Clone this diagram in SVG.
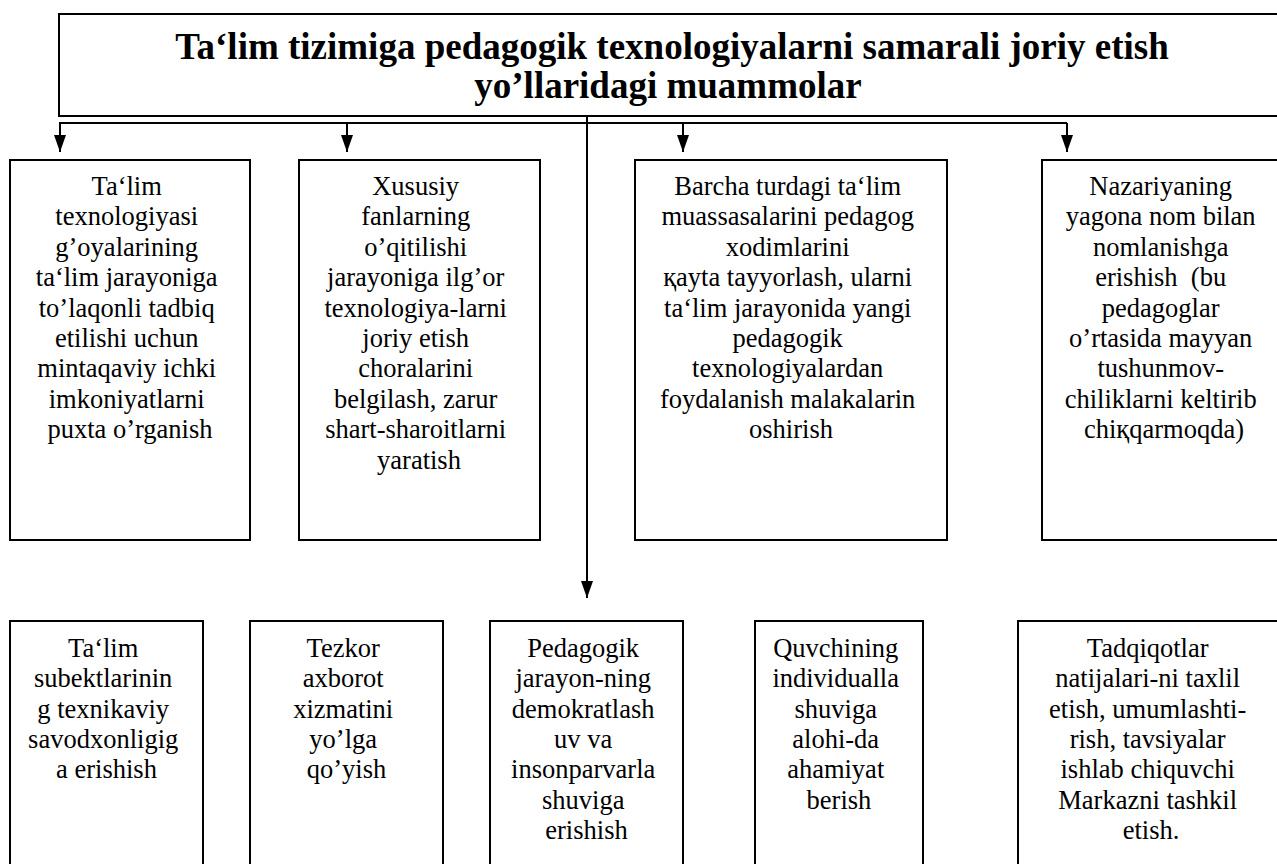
<svg xmlns="http://www.w3.org/2000/svg" width="1277" height="864" viewBox="0 0 1277 864">
<style>
.box{fill:#fff;stroke:#000;stroke-width:2}
.t{font-family:"Liberation Serif","Times New Roman",serif;font-size:26.5px;fill:#000;text-anchor:middle}
.title{font-family:"Liberation Serif","Times New Roman",serif;font-size:37px;font-weight:bold;fill:#000;text-anchor:middle}
.c{fill:none;stroke:#000;stroke-width:2}
</style>
<defs>
<marker id="ah" viewBox="0 0 17 12" refX="17" refY="6" markerWidth="17" markerHeight="12" markerUnits="userSpaceOnUse" orient="auto">
<path d="M0,0 L17,6 L0,12 z" fill="#000"/>
</marker>
</defs>
<rect width="1277" height="864" fill="#fff"/>
<g id="title">
<rect class="box" x="59" y="14" width="1240" height="102"/>
<text class="title" x="672" y="59">Ta‘lim tizimiga pedagogik texnologiyalarni samarali joriy etish</text>
<text class="title" x="668" y="98">yo’llaridagi muammolar</text>
</g>
<g id="connectors">
<path class="c" d="M59,123 H1067"/>
<path class="c" d="M60,123 V152" marker-end="url(#ah)"/>
<path class="c" d="M347,123 V152" marker-end="url(#ah)"/>
<path class="c" d="M683,123 V152" marker-end="url(#ah)"/>
<path class="c" d="M1067,123 V152" marker-end="url(#ah)"/>
<path class="c" d="M587,116 V598" marker-end="url(#ah)"/>
</g>
<g id="top1">
<rect class="box" x="10" y="160" width="240" height="380"/>
<text class="t" x="130">
<tspan x="130" y="195">Ta‘lim</tspan>
<tspan x="130" y="225.4">texnologiyasi</tspan>
<tspan x="130" y="255.8">g’oyalarining</tspan>
<tspan x="130" y="286.2">ta‘lim jarayoniga</tspan>
<tspan x="130" y="316.6">to’laqonli tadbiq</tspan>
<tspan x="130" y="347">etilishi uchun</tspan>
<tspan x="130" y="377.4">mintaqaviy ichki</tspan>
<tspan x="130" y="407.8">imkoniyatlarni</tspan>
<tspan x="130" y="438.2">puxta o’rganish</tspan>
</text>
</g>
<g id="top2">
<rect class="box" x="299" y="160" width="241" height="380"/>
<text class="t" x="419">
<tspan x="419" y="195">Xususiy</tspan>
<tspan x="419" y="225.4">fanlarning</tspan>
<tspan x="419" y="255.8">o’qitilishi</tspan>
<tspan x="419" y="286.2">jarayoniga ilg’or</tspan>
<tspan x="419" y="316.6">texnologiya-larni</tspan>
<tspan x="419" y="347">joriy etish</tspan>
<tspan x="419" y="377.4">choralarini</tspan>
<tspan x="419" y="407.8">belgilash, zarur</tspan>
<tspan x="419" y="438.2">shart-sharoitlarni</tspan>
<tspan x="419" y="468.6">yaratish</tspan>
</text>
</g>
<g id="top3">
<rect class="box" x="635" y="160" width="312" height="380"/>
<text class="t" x="791">
<tspan x="791" y="195">Barcha turdagi ta‘lim</tspan>
<tspan x="791" y="225.4">muassasalarini pedagog</tspan>
<tspan x="791" y="255.8">xodimlarini</tspan>
<tspan x="791" y="286.2">қayta tayyorlash, ularni</tspan>
<tspan x="791" y="316.6">ta‘lim jarayonida yangi</tspan>
<tspan x="791" y="347">pedagogik</tspan>
<tspan x="791" y="377.4">texnologiyalardan</tspan>
<tspan x="791" y="407.8">foydalanish malakalarin</tspan>
<tspan x="791" y="438.2">oshirish</tspan>
</text>
</g>
<g id="top4">
<rect class="box" x="1042" y="160" width="245" height="380"/>
<text class="t" x="1164">
<tspan x="1164" y="195">Nazariyaning</tspan>
<tspan x="1164" y="225.4">yagona nom bilan</tspan>
<tspan x="1164" y="255.8">nomlanishga</tspan>
<tspan x="1164" y="286.2">erishish&#160; (bu</tspan>
<tspan x="1164" y="316.6">pedagoglar</tspan>
<tspan x="1164" y="347">o’rtasida mayyan</tspan>
<tspan x="1164" y="377.4">tushunmov-</tspan>
<tspan x="1164" y="407.8">chiliklarni keltirib</tspan>
<tspan x="1164" y="438.2">chiқqarmoqda)</tspan>
</text>
</g>
<g id="bot1">
<rect class="box" x="10" y="621" width="193" height="260"/>
<text class="t" x="106.5">
<tspan x="106.5" y="657">Ta‘lim</tspan>
<tspan x="106.5" y="687.3">subektlarinin</tspan>
<tspan x="106.5" y="717.6">g texnikaviy</tspan>
<tspan x="106.5" y="747.9">savodxonligig</tspan>
<tspan x="106.5" y="778.2">a erishish</tspan>
</text>
</g>
<g id="bot2">
<rect class="box" x="250" y="621" width="193" height="260"/>
<text class="t" x="346.5">
<tspan x="346.5" y="657">Tezkor</tspan>
<tspan x="346.5" y="687.3">axborot</tspan>
<tspan x="346.5" y="717.6">xizmatini</tspan>
<tspan x="346.5" y="747.9">yo’lga</tspan>
<tspan x="346.5" y="778.2">qo’yish</tspan>
</text>
</g>
<g id="bot3">
<rect class="box" x="490" y="621" width="193" height="260"/>
<text class="t" x="586.5">
<tspan x="586.5" y="657">Pedagogik</tspan>
<tspan x="586.5" y="687.3">jarayon-ning</tspan>
<tspan x="586.5" y="717.6">demokratlash</tspan>
<tspan x="586.5" y="747.9">uv va</tspan>
<tspan x="586.5" y="778.2">insonparvarla</tspan>
<tspan x="586.5" y="808.5">shuviga</tspan>
<tspan x="586.5" y="838.8">erishish</tspan>
</text>
</g>
<g id="bot4">
<rect class="box" x="755" y="621" width="168" height="260"/>
<text class="t" x="839">
<tspan x="839" y="657">Quvchining</tspan>
<tspan x="839" y="687.3">individualla</tspan>
<tspan x="839" y="717.6">shuviga</tspan>
<tspan x="839" y="747.9">alohi-da</tspan>
<tspan x="839" y="778.2">ahamiyat</tspan>
<tspan x="839" y="808.5">berish</tspan>
</text>
</g>
<g id="bot5">
<rect class="box" x="1018" y="621" width="266" height="260"/>
<text class="t" x="1151">
<tspan x="1151" y="657">Tadqiqotlar</tspan>
<tspan x="1151" y="687.3">natijalari-ni taxlil</tspan>
<tspan x="1151" y="717.6">etish, umumlashti-</tspan>
<tspan x="1151" y="747.9">rish, tavsiyalar</tspan>
<tspan x="1151" y="778.2">ishlab chiquvchi</tspan>
<tspan x="1151" y="808.5">Markazni tashkil</tspan>
<tspan x="1151" y="838.8">etish.</tspan>
</text>
</g>
</svg>
